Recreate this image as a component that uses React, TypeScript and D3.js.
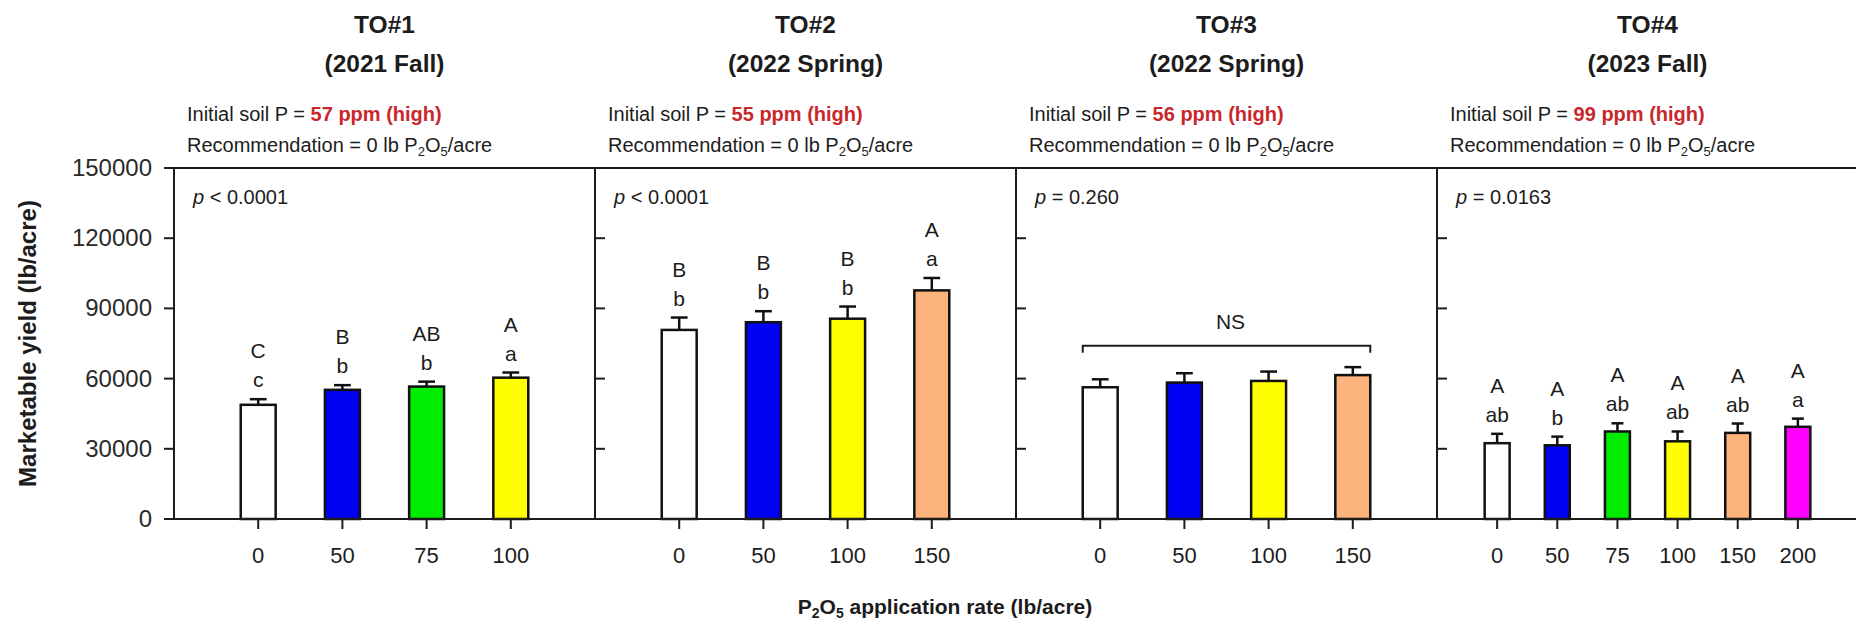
import React from 'react';
import * as d3 from 'd3';

// Trial headers
const trialNames = ['TO#1', 'TO#2', 'TO#3', 'TO#4'];
const seasons = ['(2021 Fall)', '(2022 Spring)', '(2022 Spring)', '(2023 Fall)'];
const soilP = ['57 ppm (high)', '55 ppm (high)', '56 ppm (high)', '99 ppm (high)'];
const pOps = ['<', '<', '=', '='];
const pVals = ['0.0001', '0.0001', '0.260', '0.0163'];

// P2O5 rates (lb/acre) per trial
const rates1 = [0, 50, 75, 100];
const rates2 = [0, 50, 100, 150];
const rates3 = [0, 50, 100, 150];
const rates4 = [0, 50, 75, 100, 150, 200];

// Marketable yield means and standard errors (lb/acre)
const yield1 = [48800, 55200, 56600, 60400];
const se1 = [2400, 2000, 2100, 2200];
const yield2 = [80800, 84100, 85600, 97700];
const se2 = [5300, 4700, 5200, 5300];
const yield3 = [56300, 58300, 59000, 61500];
const se3 = [3400, 4000, 4000, 3400];
const yield4 = [32400, 31500, 37400, 33200, 36800, 39400];
const se4 = [4000, 3700, 3500, 4200, 4000, 3500];

// Mean separation letters
const upper1 = ['C', 'B', 'AB', 'A'];
const lower1 = ['c', 'b', 'b', 'a'];
const upper2 = ['B', 'B', 'B', 'A'];
const lower2 = ['b', 'b', 'b', 'a'];
const upper4 = ['A', 'A', 'A', 'A', 'A', 'A'];
const lower4 = ['ab', 'b', 'ab', 'ab', 'ab', 'a'];

// Bracket height for the non-significant trial
const nsBracket = 74000;

const yTicks = [0, 30000, 60000, 90000, 120000, 150000];

const rateColors: Record<number, string> = {
  0: '#ffffff',
  50: '#0000f2',
  75: '#00ec00',
  100: '#ffff00',
  150: '#fdb37c',
  200: '#ff00ff',
};

const FONT = '"Liberation Sans", Arial, Helvetica, sans-serif';
const INK = '#1c1c1c';

const W = 1856;
const H = 623;
const top = 168;
const bottom = 519;
const panelLeft = 174;
const panelWidth = 421;

const panels = [
  { rates: rates1, means: yield1, se: se1, upper: upper1, lower: lower1, ns: false },
  { rates: rates2, means: yield2, se: se2, upper: upper2, lower: lower2, ns: false },
  { rates: rates3, means: yield3, se: se3, upper: null, lower: null, ns: true },
  { rates: rates4, means: yield4, se: se4, upper: upper4, lower: lower4, ns: false },
];

const y = d3.scaleLinear().domain([0, 150000]).range([bottom, top]);

function Panel({ idx }: { idx: number }) {
  const p = panels[idx];
  const x0 = panelLeft + idx * panelWidth;
  const x = d3
    .scalePoint<number>()
    .domain(p.rates)
    .range([x0, x0 + panelWidth])
    .padding(1);
  const step = x.step();
  const bw = step * 0.415;
  const cap = bw * 0.24;
  const cx = x0 + panelWidth / 2;

  return (
    <g>
      {/* headers */}
      <text x={cx} y={33} textAnchor="middle" fontSize={24.5} fontWeight="bold" fill={INK}>
        {trialNames[idx]}
      </text>
      <text x={cx} y={72} textAnchor="middle" fontSize={24.5} fontWeight="bold" fill={INK}>
        {seasons[idx]}
      </text>
      <text x={x0 + 13} y={121} fontSize={20} fill={INK}>
        Initial soil P ={' '}
        <tspan fill="#c8282c" fontWeight="bold">
          {soilP[idx]}
        </tspan>
      </text>
      <text x={x0 + 13} y={152} fontSize={20} fill={INK}>
        Recommendation = 0 lb P
        <tspan fontSize={13} dy={4}>2</tspan>
        <tspan dy={-4}>O</tspan>
        <tspan fontSize={13} dy={4}>5</tspan>
        <tspan dy={-4}>/acre</tspan>
      </text>

      {/* p value */}
      <text x={x0 + 19} y={204} fontSize={20} fill={INK}>
        <tspan fontStyle="italic">p</tspan> {pOps[idx]} {pVals[idx]}
      </text>

      {/* divider with inward ticks */}
      {idx > 0 && (
        <g>
          <line x1={x0} x2={x0} y1={top} y2={bottom} stroke={INK} strokeWidth={2} />
          {yTicks.slice(1, -1).map((t) => (
            <line key={t} x1={x0} x2={x0 + 10} y1={y(t)} y2={y(t)} stroke={INK} strokeWidth={2} />
          ))}
        </g>
      )}

      {/* bars */}
      {p.rates.map((r, i) => {
        const xc = x(r)!;
        const m = p.means[i];
        const hi = m + p.se[i];
        return (
          <g key={r}>
            <line x1={xc} x2={xc} y1={y(m)} y2={y(hi)} stroke="#111" strokeWidth={2.5} />
            <line x1={xc - cap} x2={xc + cap} y1={y(hi)} y2={y(hi)} stroke="#111" strokeWidth={2.5} />
            <rect
              x={xc - bw / 2}
              y={y(m)}
              width={bw}
              height={y(0) - y(m)}
              fill={rateColors[r]}
              stroke="#111"
              strokeWidth={2.5}
            />
            {p.upper && (
              <text x={xc} y={y(hi) - 41} textAnchor="middle" fontSize={21} fill={INK}>
                {p.upper[i]}
              </text>
            )}
            {p.lower && (
              <text x={xc} y={y(hi) - 12} textAnchor="middle" fontSize={21} fill={INK}>
                {p.lower[i]}
              </text>
            )}
          </g>
        );
      })}

      {/* NS bracket */}
      {p.ns && (() => {
        const l = x(p.rates[0])! - bw / 2;
        const rr = x(p.rates[p.rates.length - 1])! + bw / 2;
        const yb = y(nsBracket);
        return (
          <g>
            <path
              d={`M${l},${yb + 7}V${yb}H${rr}V${yb + 7}`}
              fill="none"
              stroke={INK}
              strokeWidth={2}
            />
            <text x={(l + rr) / 2 + 4} y={yb - 17} textAnchor="middle" fontSize={21} fill={INK}>
              NS
            </text>
          </g>
        );
      })()}

      {/* x ticks & labels */}
      {p.rates.map((r) => (
        <g key={`t${r}`}>
          <line x1={x(r)!} x2={x(r)!} y1={bottom} y2={bottom + 10} stroke={INK} strokeWidth={2} />
          <text x={x(r)!} y={563} textAnchor="middle" fontSize={22} fill={INK}>
            {r}
          </text>
        </g>
      ))}
    </g>
  );
}

export default function App() {
  return (
    <svg
      width={W}
      height={H}
      style={{ position: 'absolute', left: 0, top: 0, background: '#fff' }}
      fontFamily={FONT}
    >
      <rect width={W} height={H} fill="#fff" />
      {panels.map((_, i) => (
        <Panel key={i} idx={i} />
      ))}

      {/* frame */}
      <line x1={panelLeft} x2={W} y1={top} y2={top} stroke={INK} strokeWidth={2} />
      <line x1={panelLeft - 10} x2={W} y1={bottom} y2={bottom} stroke={INK} strokeWidth={2} />
      <line x1={panelLeft} x2={panelLeft} y1={top} y2={bottom} stroke={INK} strokeWidth={2} />

      {/* y axis ticks and labels */}
      {yTicks.map((t) => (
        <g key={t}>
          <line x1={panelLeft - 10} x2={panelLeft} y1={y(t)} y2={y(t)} stroke={INK} strokeWidth={2} />
          <text x={panelLeft - 22} y={y(t) + 8} textAnchor="end" fontSize={24} fill="#2a2a2a">
            {t}
          </text>
        </g>
      ))}

      {/* axis titles */}
      <text
        transform={`translate(36,${(top + bottom) / 2}) rotate(-90)`}
        textAnchor="middle"
        fontSize={24}
        fontWeight="bold"
        fill={INK}
      >
        Marketable yield (lb/acre)
      </text>
      <text x={945} y={614} textAnchor="middle" fontSize={21} fontWeight="bold" fill={INK}>
        P<tspan fontSize={14} dy={4}>2</tspan>
        <tspan dy={-4}>O</tspan>
        <tspan fontSize={14} dy={4}>5</tspan>
        <tspan dy={-4}> application rate (lb/acre)</tspan>
      </text>
    </svg>
  );
}
